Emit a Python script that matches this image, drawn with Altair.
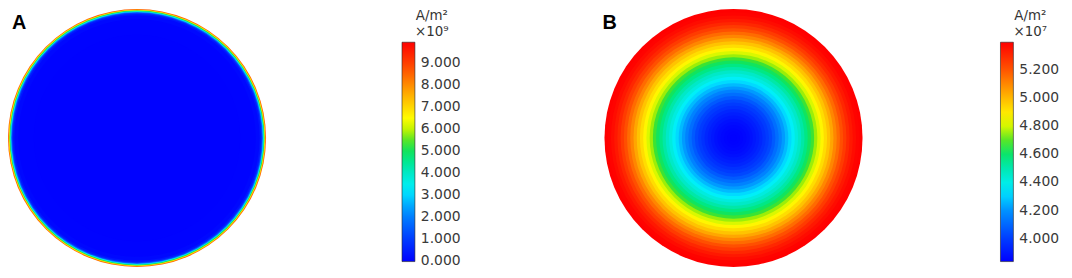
import math
import altair as alt
import pandas as pd

# ---- data ----
# Panel A: current density (A/m^2, x1e9) vs normalised radius r/R (only a thin skin at the edge)
a_r = [1.000, 0.994, 0.988, 0.982, 0.976, 0.970, 0.962, 0.950, 0.920, 0.800]
a_j = [8.5, 6.8, 5.2, 3.4, 2.0, 0.9, 0.35, 0.1, 0.02, 0.0]

# Panel B: current density (A/m^2, x1e7) vs normalised radius r/R
b_r = [1.000, 0.975, 0.950, 0.925, 0.900, 0.875, 0.850, 0.825, 0.800, 0.775,
       0.750, 0.725, 0.700, 0.675, 0.650, 0.625, 0.600, 0.575, 0.550, 0.525,
       0.500, 0.475, 0.450, 0.425, 0.400, 0.375, 0.350, 0.325, 0.300, 0.275,
       0.250, 0.225, 0.200, 0.175, 0.150, 0.125, 0.100, 0.075, 0.050, 0.025]
b_j = [5.400, 5.389, 5.369, 5.341, 5.306, 5.260, 5.213, 5.158, 5.104, 5.041,
       4.979, 4.924, 4.870, 4.807, 4.745, 4.682, 4.620, 4.565, 4.514, 4.464,
       4.417, 4.367, 4.316, 4.264, 4.214, 4.164, 4.118, 4.071, 4.027, 3.996,
       3.968, 3.941, 3.918, 3.899, 3.882, 3.868, 3.856, 3.848, 3.843, 3.840]

a_ticks = [0, 1, 2, 3, 4, 5, 6, 7, 8, 9]
b_ticks = [4.0, 4.2, 4.4, 4.6, 4.8, 5.0, 5.2]
a_range = [-0.03, 9.95]
b_range = [3.838, 5.397]

# colormap (rainbow) stops: fraction of range -> colour
cmap_pos = [0.0, 0.11, 0.23, 0.33, 0.41, 0.47, 0.53, 0.59, 0.65, 0.78, 0.88, 1.0]
cmap_col = ["#0000ff", "#0040ff", "#0090ff", "#00f0ff", "#00e8c0", "#00e880",
            "#20e040", "#b0f000", "#ffff00", "#ffa000", "#ff5000", "#ff0000"]

dfA = pd.DataFrame({"r": a_r, "jA": a_j})
dfB = pd.DataFrame({"r": b_r, "jB": b_j})

R = 130
FONT = "DejaVu Sans"


def stops(rng):
    return [rng[0] + p * (rng[1] - rng[0]) for p in cmap_pos]


def legend(title, values, x):
    return alt.Legend(
        orient="none", legendX=x, legendY=0, direction="vertical",
        title=title, titleFont=FONT, titleFontSize=13.5, titleFontWeight="normal",
        titleColor="#333333", titleAlign="center", titleAnchor="middle",
        titlePadding=4, titleLineHeight=16,
        gradientLength=221, gradientThickness=13,
        gradientStrokeColor="#222222", gradientStrokeWidth=0.6,
        values=values, format=".3f", labelFont=FONT, labelFontSize=14,
        labelColor="#3a3a3a", labelOffset=6, labelOverlap=False,
        labelBaseline="middle",
    )


radius_scale = alt.Scale(type="linear", domain=[0, 1], range=[0, R], zero=True)

ringsA = alt.Chart(dfA).mark_arc(theta=0, theta2=2 * math.pi).encode(
    x=alt.value(130), y=alt.value(130),
    radius=alt.Radius("r:Q", scale=radius_scale, stack=None),
    color=alt.Color("jA:Q", scale=alt.Scale(domain=stops(a_range), range=cmap_col, interpolate="rgb"),
                    legend=legend(["A/m²", "×10⁹"], a_ticks, 397)),
    order=alt.Order("r:Q", sort="descending"),
)

ringsB = alt.Chart(dfB).mark_arc(theta=0, theta2=2 * math.pi).encode(
    x=alt.value(731), y=alt.value(130),
    radius=alt.Radius("r:Q", scale=radius_scale, stack=None),
    color=alt.Color("jB:Q", scale=alt.Scale(domain=stops(b_range), range=cmap_col, interpolate="rgb"),
                    legend=legend(["A/m²", "×10⁷"], b_ticks, 1000)),
    order=alt.Order("r:Q", sort="descending"),
)

labels = alt.Chart(pd.DataFrame({"t": ["A", "B"], "px": [4, 599]})).mark_text(
    font="Liberation Sans", fontSize=20, fontWeight="bold", color="#000000",
    align="left", baseline="alphabetic",
).encode(
    x=alt.X("px:Q", scale=alt.Scale(domain=[0, 1064], range=[0, 1064]), axis=None),
    y=alt.value(20), text="t:N",
)

chart = alt.layer(ringsA, ringsB, labels).resolve_scale(
    color="independent"
).properties(
    width=1064, height=262, padding=0,
    autosize=alt.AutoSizeParams(type="none"),
).configure_view(stroke=None)

chart.save("out.html", embed_options={"renderer": "svg", "actions": False})
